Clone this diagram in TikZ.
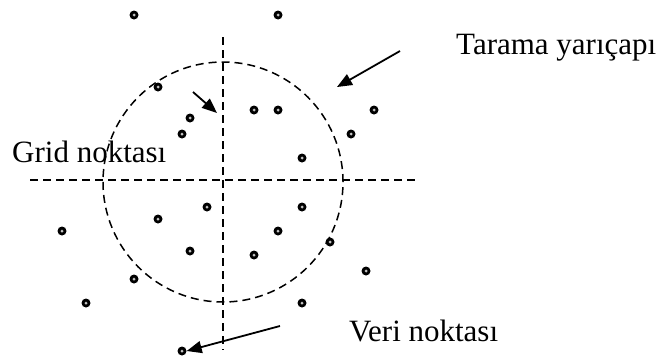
\documentclass[tikz,border=0pt]{standalone}
\usepackage{fontspec}
\setmainfont{Liberation Serif}
\usetikzlibrary{arrows.meta}

\begin{document}
\begin{tikzpicture}[
  x=1pt, y=-1pt,
  veri/.style={circle, fill=black, inner sep=0pt, minimum size=9pt,
    path picture={\fill[white] (path picture bounding box.center) circle (1.5pt);
                  \fill[black] (path picture bounding box.center) circle (0.7pt);}},
  gridline/.style={line width=1.5pt, dash pattern=on 8pt off 5pt},
  label/.style={anchor=base west, inner sep=0pt, font=\fontsize{31}{36}\selectfont},
  arrow/.style={-{Triangle[length=15pt, width=12pt]}, line width=1.8pt},
]
\useasboundingbox (0,0) rectangle (668,359);

% Grid lines and search radius
\coordinate (vtop) at (223,37);
\coordinate (vbot) at (223,350);
\coordinate (hleft) at (30,180);
\coordinate (hright) at (416,180);
\draw[gridline] (vtop) -- (vbot);
\draw[gridline] (hleft) -- (hright);
\node[circle, draw, gridline, minimum size=240pt, inner sep=0pt] (ring) at (223,182) {};

% Data points
\foreach \px/\py [count=\i] in {134/15, 278/15, 158/87, 190/118, 182/134, 254/110, 278/110,
  374/110, 351/134, 302/158, 207/207, 302/207, 158/219, 62/231, 278/231, 330/242,
  190/251, 254/255, 134/279, 86/303, 302/303, 366/271, 182/351}
  \node[veri] (p\i) at (\px,\py) {};

% Labels
\node[label] (tarama) at (456,54) {Tarama yarıçapı};
\node[label] (grid) at (12,162) {Grid noktası};
\node[label] (veri) at (349,341) {Veri noktası};

% Arrows
\coordinate (ta) at (400,51);
\coordinate (tb) at (337,87);
\coordinate (ga) at (193,92);
\coordinate (gb) at (217,113);
\coordinate (va) at (280,326);
\draw[arrow] (ta) -- (tb);
\draw[arrow] (ga) -- (gb);
\draw[arrow] (va) -- (p23.east);

\end{tikzpicture}
\end{document}
